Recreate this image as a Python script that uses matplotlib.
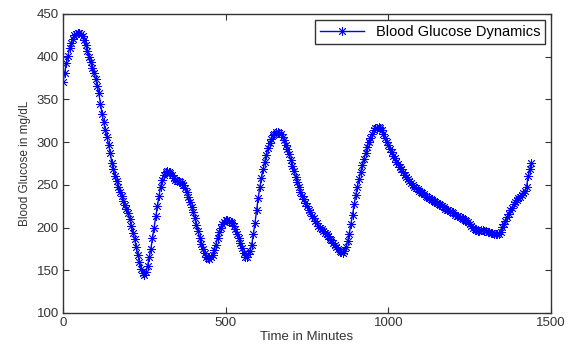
import numpy as np
import matplotlib
matplotlib.use("Agg")
import matplotlib.pyplot as plt

plt.rcParams['font.family'] = ['Liberation Sans', 'DejaVu Sans']

# blood glucose readings (mg/dL), one every 5 minutes from t = 0
glucose = [
    370, 381, 392, 401, 410, 416, 421, 425, 427, 428, 428,
    426, 424, 419, 414, 407, 400, 394, 387, 381, 374,
    366, 357, 345, 333, 323, 314, 306, 297, 287, 276,
    268, 260, 254, 248, 242, 237, 231, 226, 222, 217,
    210, 202, 194, 186, 177, 168, 160, 152, 147, 145,
    148, 155, 165, 175, 188, 200, 213, 225, 237, 248,
    256, 262, 265, 266, 265, 264, 261, 258, 256, 254,
    254, 253, 252, 250, 246, 242, 236, 230, 224, 218,
    211, 203, 196, 188, 181, 175, 170, 166, 164, 163,
    165, 168, 174, 180, 188, 195, 200, 204, 207, 209,
    209, 208, 207, 205, 202, 198, 193, 188, 182, 176,
    170, 166, 165, 169, 173, 180, 192, 205, 220, 235,
    247, 258, 268, 277, 285, 293, 299, 304, 308, 310,
    312, 312, 311, 309, 306, 302, 297, 292, 286, 279,
    272, 266, 259, 253, 247, 242, 237, 233, 229, 225,
    221, 218, 214, 211, 208, 205, 202, 200, 198, 196,
    194, 192, 190, 187, 185, 182, 180, 177, 175, 172,
    171, 170, 172, 177, 184, 193, 204, 215, 227, 238,
    248, 257, 265, 273, 280, 287, 294, 300, 305, 310,
    314, 316, 317, 318, 317, 314, 310, 305, 300, 296,
    292, 288, 284, 281, 277, 274, 271, 268, 265, 262,
    259, 257, 254, 252, 250, 248, 246, 245, 243, 242,
    240, 239, 237, 236, 234, 233, 232, 231, 230, 229,
    227, 226, 225, 224, 222, 221, 220, 219, 218, 217,
    215, 214, 213, 212, 211, 210, 209, 208, 206, 204,
    202, 200, 198, 197, 196, 196, 197, 197, 196, 196,
    195, 195, 194, 194, 193, 192, 192, 193, 195, 201,
    204, 208, 212, 216, 220, 223, 227, 230, 232, 234,
    236, 238, 240, 243, 248, 260, 268, 275,
]
minutes = list(range(0, 5 * len(glucose), 5))

x_ticks = [0, 500, 1000, 1500]
y_ticks = [100, 150, 200, 250, 300, 350, 400, 450]

fig = plt.figure(figsize=(5.68, 3.47), dpi=100)
ax = fig.add_axes([0.111, 0.098, 0.859, 0.862])

# (8, 2, 0) = eight-armed asterisk, like MATLAB's '*'
ax.plot(minutes, glucose, color='blue', lw=1, marker=(8, 2, 0), ms=6.5, mew=0.6,
        label='Blood Glucose Dynamics')

ax.set_xlim(0, 1500)
ax.set_ylim(100, 450)
ax.set_xticks(x_ticks)
ax.set_yticks(y_ticks)
ax.tick_params(direction='in', top=True, right=True, length=4, width=0.8,
               colors='#333333', labelsize=9.5, pad=3)
for s in ax.spines.values():
    s.set_color('#333333')
    s.set_linewidth(1)

ax.set_xlabel('Time in Minutes', fontsize=9.5, color='#333333', labelpad=1)
ax.set_ylabel('Blood Glucose in mg/dL', fontsize=8.5, color='#333333', labelpad=4)

leg = ax.legend(loc='upper right', fontsize=10.5, fancybox=False, framealpha=1,
                edgecolor='#333333', handlelength=3.0, borderaxespad=0.4,
                borderpad=0.35)
leg.get_frame().set_linewidth(1)

fig.savefig('out.png', dpi=100)
